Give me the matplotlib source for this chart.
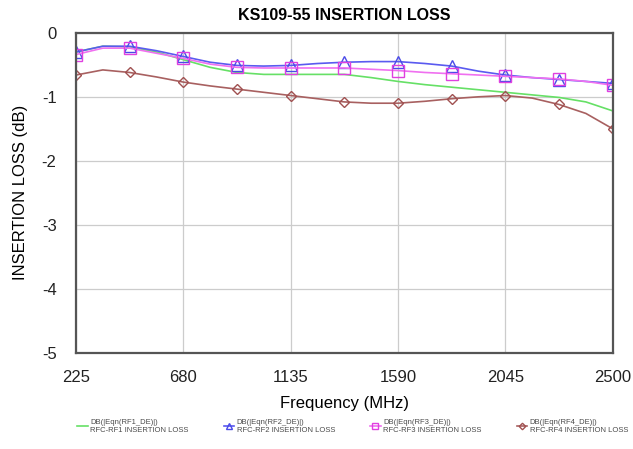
import matplotlib
matplotlib.use("Agg")
import matplotlib.pyplot as plt
from matplotlib import font_manager

# frequency grid (MHz), markers sit on every other point
freq = [225, 338.75, 452.5, 566.25, 680, 793.75, 907.5, 1021.25, 1135, 1248.75,
        1362.5, 1476.25, 1590, 1703.75, 1817.5, 1931.25, 2045, 2158.75, 2272.5,
        2386.25, 2500]

rf1 = [-0.30, -0.21, -0.22, -0.30, -0.42, -0.54, -0.62, -0.65, -0.65, -0.65, -0.65,
       -0.70, -0.76, -0.81, -0.85, -0.89, -0.93, -0.97, -1.01, -1.08, -1.22]
rf2 = [-0.30, -0.21, -0.21, -0.28, -0.37, -0.46, -0.51, -0.52, -0.51, -0.48, -0.46,
       -0.45, -0.45, -0.48, -0.52, -0.60, -0.66, -0.70, -0.73, -0.76, -0.79]
rf3 = [-0.34, -0.24, -0.24, -0.32, -0.40, -0.49, -0.54, -0.55, -0.55, -0.55, -0.55,
       -0.57, -0.59, -0.62, -0.64, -0.66, -0.68, -0.70, -0.72, -0.76, -0.82]
rf4 = [-0.66, -0.58, -0.62, -0.69, -0.77, -0.83, -0.88, -0.93, -0.98, -1.03, -1.08,
       -1.10, -1.10, -1.07, -1.03, -1.00, -0.98, -1.02, -1.12, -1.26, -1.50]

xticks = [225, 680, 1135, 1590, 2045, 2500]
yticks = [0, -1, -2, -3, -4, -5]

labels = ["DB(|Eqn(RF1_DE)|)\nRFC-RF1 INSERTION LOSS",
          "DB(|Eqn(RF2_DE)|)\nRFC-RF2 INSERTION LOSS",
          "DB(|Eqn(RF3_DE)|)\nRFC-RF3 INSERTION LOSS",
          "DB(|Eqn(RF4_DE)|)\nRFC-RF4 INSERTION LOSS"]

plt.rcParams["font.family"] = ["Liberation Sans", "DejaVu Sans"]
plt.rcParams["axes.unicode_minus"] = False

# narrow bold face for the title if one is around
names = {f.name for f in font_manager.fontManager.ttflist}
if "Liberation Sans Narrow" in names:
    title_kw = dict(family="Liberation Sans Narrow", fontsize=14)
elif "DejaVu Sans Condensed" in names:
    title_kw = dict(family="DejaVu Sans Condensed", fontsize=12.5)
else:
    title_kw = dict(family="Liberation Sans", fontsize=11.5)

fig = plt.figure(figsize=(6.33, 4.49), dpi=100)
ax = fig.add_axes([0.120, 0.214, 0.848, 0.713])

l1, = ax.plot(freq, rf1, color="#66e066", lw=1.2)
l2, = ax.plot(freq, rf2, color="#5a5af0", lw=1.2, marker="^", markevery=2,
              ms=8, mfc="none", mec="#4a4ae8", mew=1.0)
l3, = ax.plot(freq, rf3, color="#f070f0", lw=1.2, marker="s", markevery=2,
              ms=8, mfc="none", mec="#e040e0", mew=1.0)
l4, = ax.plot(freq, rf4, color="#a86060", lw=1.2, marker="D", markevery=2,
              ms=5.5, mfc="none", mec="#a05050", mew=1.0)

ax.set_xlim(225, 2500)
ax.set_ylim(-5, 0)
ax.set_xticks(xticks)
ax.set_yticks(yticks)
ax.grid(True, color="#cccccc", lw=0.9)
ax.tick_params(length=0, labelsize=12, pad=12, colors="#222222")
ax.tick_params(axis="y", pad=14)
for s in ax.spines.values():
    s.set_color("#555555")
    s.set_linewidth(1.6)

ax.set_title("KS109-55 INSERTION LOSS", fontweight="bold", pad=9, **title_kw)
ax.set_xlabel("Frequency (MHz)", fontsize=12, labelpad=8)
ax.set_ylabel("INSERTION LOSS (dB)", fontsize=12, labelpad=10)

fig.legend([l1, l2, l3, l4], labels, loc="lower center", bbox_to_anchor=(0.557, 0.018),
           ncol=4, frameon=False, fontsize=5.5, labelcolor="#4a4a4a",
           handlelength=1.4, handletextpad=0.3, columnspacing=4.6, markerscale=0.6)

fig.savefig("out.png", dpi=100)
